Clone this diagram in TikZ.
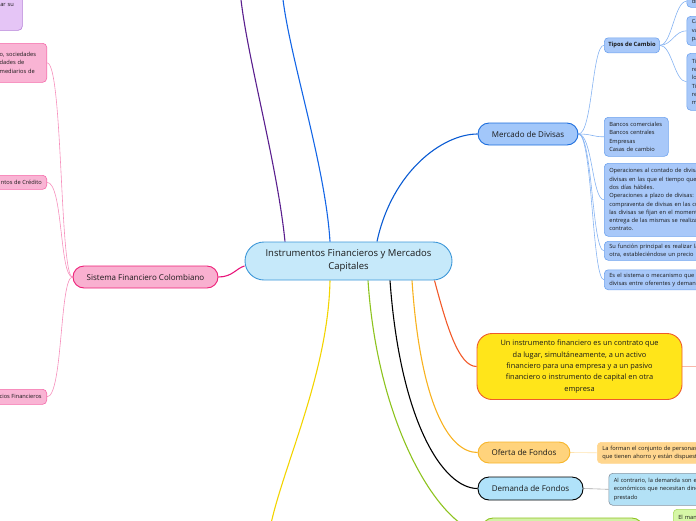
\documentclass[tikz,border=0pt]{standalone}
\usepackage{fontspec}
\setmainfont{Open Sans}
\usetikzlibrary{backgrounds}

\definecolor{centrefill}{HTML}{C6E9FA}
\definecolor{centreedge}{HTML}{3D97D8}
\definecolor{sistfill}{HTML}{F9B0D0}
\definecolor{sistedge}{HTML}{EE1F78}
\definecolor{sistline}{HTML}{E8147A}
\definecolor{pinkfill}{HTML}{F9B4D4}
\definecolor{pinkedge}{HTML}{F56BAA}
\definecolor{pinkline}{HTML}{F68FBC}
\definecolor{purpleline}{HTML}{5A1F8E}
\definecolor{purplefill}{HTML}{E5C5F6}
\definecolor{purpleedge}{HTML}{B57FD8}
\definecolor{blueline}{HTML}{1466E6}
\definecolor{mercline}{HTML}{0A5BD3}
\definecolor{mercfill}{HTML}{A2C7FA}
\definecolor{mercedge}{HTML}{1C6DDD}
\definecolor{leaffill}{HTML}{A8C8F9}
\definecolor{leafedge}{HTML}{6FA3EE}
\definecolor{leafline}{HTML}{86B3F2}
\definecolor{yelfill}{HTML}{FFE51A}
\definecolor{yeledge}{HTML}{EE5B2B}
\definecolor{redline}{HTML}{F25A2A}
\definecolor{saltline}{HTML}{F8B9AA}
\definecolor{offill}{HTML}{FFD37C}
\definecolor{ofedge}{HTML}{F7B52A}
\definecolor{orangeline}{HTML}{F8B220}
\definecolor{ofleaf}{HTML}{FFD68E}
\definecolor{ofline}{HTML}{FFE3AE}
\definecolor{dmfill}{HTML}{B0E2FA}
\definecolor{dmleaf}{HTML}{B3E1F6}
\definecolor{dmleafedge}{HTML}{8695A3}
\definecolor{grayline}{HTML}{A6A6A6}
\definecolor{greenline}{HTML}{8DC31E}
\definecolor{greenfill}{HTML}{D3F1A6}
\definecolor{grleaf}{HTML}{D6F7A6}
\definecolor{grleafedge}{HTML}{A9D95C}
\definecolor{yellowline}{HTML}{F3D400}
\definecolor{inktext}{HTML}{1A1A1A}

\begin{document}
\begin{tikzpicture}[x=1pt,y=-1pt,
  topic/.style={draw, line width=0.9pt, rounded corners=11pt, inner sep=0pt,
    text=inktext, font=\fontsize{8}{10}\selectfont},
  leaf/.style={rounded corners=4pt, line width=0.6pt, anchor=north west,
    align=left, inner xsep=5pt, inner ysep=0pt, text=inktext,
    font=\fontsize{5.7}{8.3}\selectfont},
  bluebox/.style={leaf, fill=leaffill, draw=leafedge},
  pinkbox/.style={leaf, anchor=north east, fill=pinkfill, draw=pinkedge},
  link/.style={line width=0.6pt}]
\useasboundingbox (0,0) rectangle (696,520);
\clip (0,0) rectangle (696,520);

% central topic
\node[topic, fill=centrefill, draw=centreedge, rounded corners=19pt,
  minimum width=207pt, minimum height=38pt, align=center,
  font=\fontsize{9.5}{13}\selectfont] (central) at (348.5,261)
  {Instrumentos Financieros y Mercados\\Capitales};

% left side
\node[topic, fill=sistfill, draw=sistedge, minimum width=145pt,
  minimum height=22pt] (sistema) at (145.5,277) {Sistema Financiero Colombiano};
\node[leaf, fill=purplefill, draw=purpleedge, text width=17pt,
  minimum height=50pt] (lilac) at (-5,-20) {ar su};
\node[pinkbox, text width=42pt, minimum height=39pt] (entities) at (47,43)
  {o, sociedades\\dades de\\mediarios de};
\node[pinkbox, minimum height=14pt] (credit) at (47,175) {ntos de Crédito};
\node[pinkbox, minimum height=15pt] (services) at (47,389) {cios Financieros};

% Mercado de Divisas
\node[topic, fill=mercfill, draw=mercedge, minimum width=100pt,
  minimum height=22pt] (mercado) at (528,134) {Mercado de Divisas};
\node[bluebox, minimum width=55pt, minimum height=15pt, inner xsep=4pt,
  font=\fontsize{5.8}{8}\selectfont\bfseries] (tipos) at (604,37.5) {Tipos de Cambio};
\node[bluebox, text width=30pt, minimum height=12pt] (tc1) at (686.5,-5)
  {di};
\node[bluebox, text width=30pt, minimum height=29pt] (tc2) at (686.5,16)
  {Ca\\va\\pa};
\node[bluebox, text width=30pt, minimum height=57pt] (tc3) at (686.5,53)
  {Tip\\re\\los\\Tip\\re\\m};
\node[bluebox, text width=54pt, minimum height=39pt] (actors) at (604,117)
  {Bancos comerciales\\Bancos centrales\\Empresas\\Casas de cambio};
\node[bluebox, text width=125pt, minimum height=73pt] (ops) at (604,163)
  {Operaciones al contado de divisas:\\divisas en las que el tiempo que\\dos días hábiles.\\Operaciones a plazo de divisas:\\compraventa de divisas en las cuales\\las divisas se fijan en el momento\\entrega de las mismas se realiza\\contrato.};
\node[bluebox, text width=125pt, minimum height=19pt] (role) at (604,241)
  {Su función principal es realizar la\\otra, estableciéndose un precio};
\node[bluebox, text width=125pt, minimum height=20pt] (market) at (604,269.5)
  {Es el sistema o mecanismo que\\divisas entre oferentes y demandantes};

% right side, lower topics
\node[topic, fill=yelfill, draw=yeledge, rounded corners=15pt,
  minimum width=205pt, minimum height=66pt, align=center,
  font=\fontsize{7.4}{11.3}\selectfont] (definition) at (579.5,366.5)
  {Un instrumento financiero es un contrato que\\da lugar, simultáneamente, a un activo\\financiero para una empresa y a un pasivo\\financiero o instrumento de capital en otra\\empresa};
\node[topic, fill=offill, draw=ofedge, minimum width=92pt,
  minimum height=21pt] (oferta) at (524,452.5) {Oferta de Fondos};
\node[leaf, fill=ofleaf, draw=ofleaf, text width=125pt,
  minimum height=21pt] (ofertatext) at (597,442)
  {La forman el conjunto de personas\\que tienen ahorro y están dispuestas};
\node[topic, fill=dmfill, draw=black, minimum width=105pt,
  minimum height=23pt] (demanda) at (530.5,488.5) {Demanda de Fondos};
\node[leaf, fill=dmleaf, draw=dmleafedge, text width=125pt,
  minimum height=32pt] (demandatext) at (608.5,473)
  {Al contrario, la demanda son el\\económicos que necesitan dinero\\prestado};
\node[topic, fill=greenfill, draw=greenline, minimum width=161pt,
  minimum height=30pt] (green) at (562.5,533) {};
\node[leaf, fill=grleaf, draw=grleafedge, text width=30pt,
  minimum height=16pt] (greentext) at (673,509) {El man};

% ends of branches that run off the page
\coordinate (purpleend) at (240,-10);
\coordinate (blueend) at (282,-10);
\coordinate (yellowend) at (268,540);
\coordinate (saltend) at (700,366.5);

\begin{scope}[on background layer]
  % branches of the central topic
  \draw[sistline, line width=1.1pt] (sistema.east) .. controls +(14,0) and +(-8,2) .. ([yshift=-5pt]central.west);
  \draw[purpleline, line width=1.1pt] ([xshift=-63.5pt]central.north) .. controls +(-8,-80) and +(5,60) .. (purpleend);
  \draw[blueline, line width=1.1pt] ([xshift=-18.5pt]central.north) .. controls +(-5,-80) and +(5,60) .. (blueend);
  \draw[mercline, line width=1.1pt] ([xshift=28.5pt]central.north) .. controls +(15,-70) and +(-35,0) .. (mercado.west);
  \draw[redline, line width=1.1pt] ([xshift=86pt]central.south) .. controls +(12,45) and +(-18,0) .. (definition.west);
  \draw[orangeline, line width=1.1pt] ([xshift=63.5pt]central.south) .. controls +(8,120) and +(-30,0) .. (oferta.west);
  \draw[black, line width=1.1pt] ([xshift=41.5pt]central.south) .. controls +(10,140) and +(-35,0) .. (demanda.west);
  \draw[greenline, line width=1.1pt] ([xshift=19.5pt]central.south) .. controls +(10,150) and +(-40,-5) .. (green.west);
  \draw[yellowline, line width=1.1pt] ([xshift=-18.5pt]central.south) .. controls +(-2,100) and +(8,-60) .. (yellowend);

  % Sistema Financiero Colombiano
  \foreach \child in {entities, credit, services}
    \draw[pinkline, link] (sistema.west) .. controls +(-13,0) and +(16,0) .. (\child.east);

  % Mercado de Divisas
  \foreach \child in {tipos, actors, ops, role, market}
    \draw[leafline, link] (mercado.east) .. controls +(14,0) and +(-12,0) .. (\child.west);
  \foreach \child in {tc1, tc2, tc3}
    \draw[leafline, link] (tipos.east) .. controls +(12,0) and +(-12,0) .. (\child.west);

  % single notes
  \draw[saltline, link] (definition.east) -- (saltend);
  \draw[ofline, link] (oferta.east) -- (ofertatext.west);
  \draw[grayline, link] (demanda.east) -- (demandatext.west);
\end{scope}
\end{tikzpicture}
\end{document}
